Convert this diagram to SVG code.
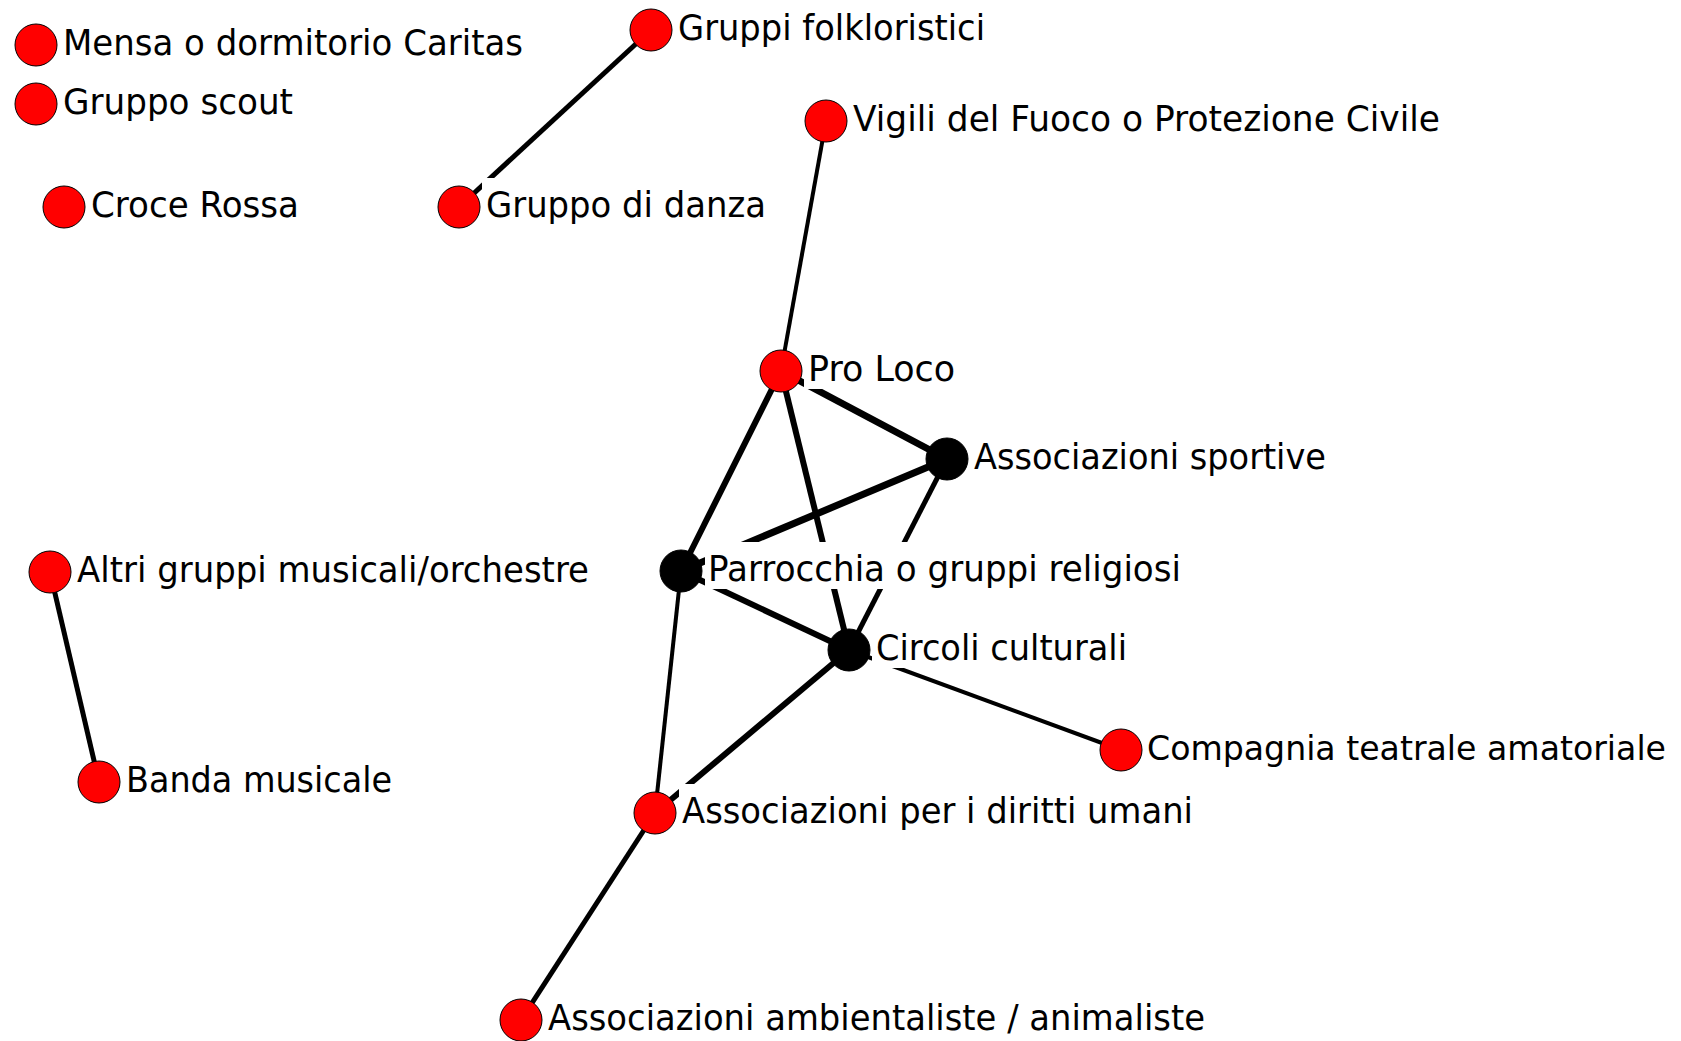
<svg xmlns="http://www.w3.org/2000/svg" width="1681" height="1041" viewBox="0 0 1681 1041">
<style>
.e{stroke:#000;fill:none;stroke-linecap:butt}
.r{fill:#ff0000;stroke:#000;stroke-width:1}
.k{fill:#000;stroke:#000;stroke-width:1}
.bg{fill:#fff}
.t{font-family:"DejaVu Sans","Liberation Sans",sans-serif;font-size:35px;fill:#000}
</style>
<rect width="1681" height="1041" fill="#fff"/>
<g id="connectors">
<line class="e" x1="651" y1="30" x2="459" y2="207" stroke-width="5"/>
<line class="e" x1="826" y1="121" x2="781" y2="371" stroke-width="4"/>
<line class="e" x1="781" y1="371" x2="947" y2="459" stroke-width="7"/>
<line class="e" x1="781" y1="371" x2="681" y2="571" stroke-width="6"/>
<line class="e" x1="781" y1="371" x2="849" y2="650" stroke-width="6"/>
<line class="e" x1="947" y1="459" x2="681" y2="571" stroke-width="7"/>
<line class="e" x1="947" y1="459" x2="849" y2="650" stroke-width="5"/>
<line class="e" x1="681" y1="571" x2="849" y2="650" stroke-width="6"/>
<line class="e" x1="681" y1="571" x2="655" y2="813" stroke-width="4"/>
<line class="e" x1="849" y1="650" x2="655" y2="813" stroke-width="6"/>
<line class="e" x1="849" y1="650" x2="1121" y2="750" stroke-width="4"/>
<line class="e" x1="655" y1="813" x2="521" y2="1020" stroke-width="5"/>
<line class="e" x1="50" y1="572" x2="99" y2="782" stroke-width="5"/>
</g>
<g id="n-mensa"><circle class="r" cx="36" cy="45" r="21"/><rect class="bg" x="59" y="16" width="470" height="47"/><text class="t" x="63" y="55" textLength="460" lengthAdjust="spacingAndGlyphs">Mensa o dormitorio Caritas</text></g>
<g id="n-scout"><circle class="r" cx="36" cy="104" r="21"/><rect class="bg" x="59" y="75" width="240" height="47"/><text class="t" x="63" y="114" textLength="230" lengthAdjust="spacingAndGlyphs">Gruppo scout</text></g>
<g id="n-croce"><circle class="r" cx="64" cy="207" r="21"/><rect class="bg" x="87" y="178" width="218" height="47"/><text class="t" x="91" y="217" textLength="208" lengthAdjust="spacingAndGlyphs">Croce Rossa</text></g>
<g id="n-danza"><circle class="r" cx="459" cy="207" r="21"/><rect class="bg" x="482" y="178" width="290" height="47"/><text class="t" x="486" y="217" textLength="280" lengthAdjust="spacingAndGlyphs">Gruppo di danza</text></g>
<g id="n-folk"><circle class="r" cx="651" cy="30" r="21"/><rect class="bg" x="674" y="1" width="318" height="47"/><text class="t" x="678" y="40" textLength="307" lengthAdjust="spacingAndGlyphs">Gruppi folkloristici</text></g>
<g id="n-vigili"><circle class="r" cx="826" cy="121" r="21"/><rect class="bg" x="849" y="92" width="598" height="47"/><text class="t" x="853" y="131" textLength="587" lengthAdjust="spacingAndGlyphs">Vigili del Fuoco o Protezione Civile</text></g>
<g id="n-proloco"><circle class="r" cx="781" cy="371" r="21"/><rect class="bg" x="804" y="342" width="158" height="47"/><text class="t" x="808" y="381" textLength="147" lengthAdjust="spacingAndGlyphs">Pro Loco</text></g>
<g id="n-sportive"><circle class="k" cx="947" cy="459" r="21"/><rect class="bg" x="970" y="430" width="362" height="47"/><text class="t" x="974" y="469" textLength="352" lengthAdjust="spacingAndGlyphs">Associazioni sportive</text></g>
<g id="n-parrocchia"><circle class="k" cx="681" cy="571" r="21"/><rect class="bg" x="705" y="542" width="483" height="47"/><text class="t" x="708" y="581" textLength="473" lengthAdjust="spacingAndGlyphs">Parrocchia o gruppi religiosi</text></g>
<g id="n-circoli"><circle class="k" cx="849" cy="650" r="21"/><rect class="bg" x="872" y="621" width="262" height="47"/><text class="t" x="876" y="660" textLength="251" lengthAdjust="spacingAndGlyphs">Circoli culturali</text></g>
<g id="n-compagnia"><circle class="r" cx="1121" cy="750" r="21"/><rect class="bg" x="1144" y="721" width="530" height="47"/><text class="t" x="1147" y="760" font-size="33" style="font-size:33px" textLength="519" lengthAdjust="spacingAndGlyphs">Compagnia teatrale amatoriale</text></g>
<g id="n-diritti"><circle class="r" cx="655" cy="813" r="21"/><rect class="bg" x="679" y="784" width="520" height="47"/><text class="t" x="682" y="823" textLength="511" lengthAdjust="spacingAndGlyphs">Associazioni per i diritti umani</text></g>
<g id="n-ambiente"><circle class="r" cx="521" cy="1020" r="21"/><rect class="bg" x="544" y="991" width="668" height="47"/><text class="t" x="548" y="1030" textLength="657" lengthAdjust="spacingAndGlyphs">Associazioni ambientaliste / animaliste</text></g>
<g id="n-altri"><circle class="r" cx="50" cy="572" r="21"/><rect class="bg" x="73" y="543" width="522" height="47"/><text class="t" x="77" y="582" textLength="512" lengthAdjust="spacingAndGlyphs">Altri gruppi musicali/orchestre</text></g>
<g id="n-banda"><circle class="r" cx="99" cy="782" r="21"/><rect class="bg" x="122" y="753" width="276" height="47"/><text class="t" x="126" y="792" textLength="266" lengthAdjust="spacingAndGlyphs">Banda musicale</text></g>
</svg>
